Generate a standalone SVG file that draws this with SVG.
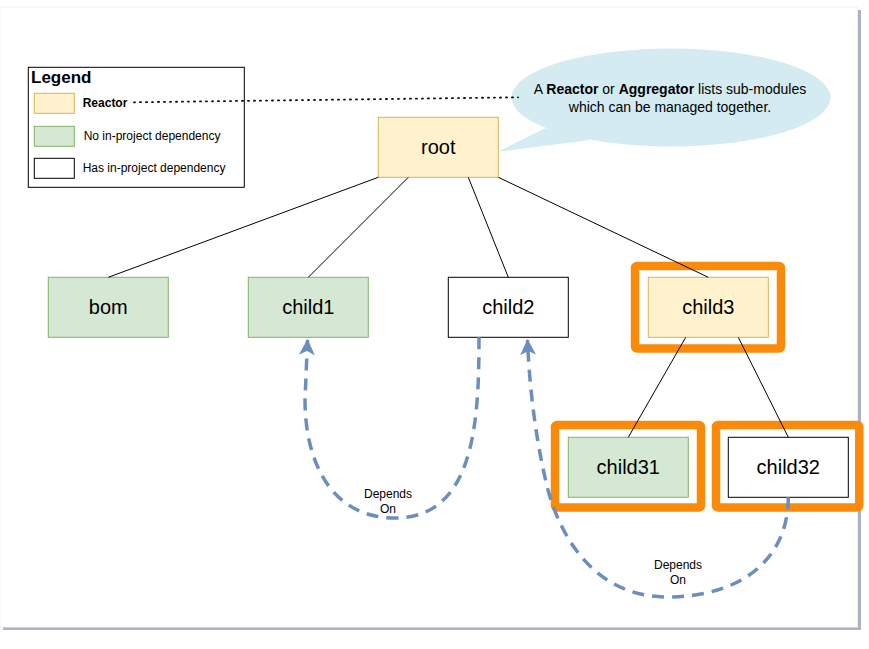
<svg xmlns="http://www.w3.org/2000/svg" width="869" height="649" viewBox="0 0 869 649">
<defs>
<style>
.t{font-family:"Liberation Sans",Arial,sans-serif;fill:#000}
.node{font-size:20px;text-anchor:middle}
.lg{font-size:12px}
.green{fill:#d5e8d4;stroke:#82b366;stroke-width:1}
.yellow{fill:#fff2cc;stroke:#d6b656;stroke-width:1}
.white{fill:#ffffff;stroke:#000000;stroke-width:1}
.hl{fill:none;stroke:#f98a0a;stroke-width:8.5}
.tree{fill:none;stroke:#000;stroke-width:1}
.dep{fill:none;stroke:#6c8ebf;stroke-width:3.5;stroke-dasharray:12 8}
</style>
<marker id="arr" viewBox="0 0 16 16" refX="15" refY="8" markerWidth="16" markerHeight="16" markerUnits="userSpaceOnUse" orient="auto">
<path d="M0,0 L16,8 L0,16 L4,8 Z" fill="#6c8ebf"/>
</marker>
</defs>
<rect x="0" y="0" width="869" height="649" fill="#ffffff"/>
<g id="page">
<rect x="3" y="10" width="858" height="620" fill="#aeb1c6"/>
<rect x="0" y="7" width="857.5" height="620" fill="#ffffff" stroke="#f2f2f2" stroke-width="1"/>
</g>
<g id="legend">
<rect x="28.3" y="67.3" width="216" height="120" fill="#fff" stroke="#000" stroke-width="1"/>
<text class="t" x="31" y="82.5" font-size="17" font-weight="bold">Legend</text>
<rect class="yellow" x="34.3" y="93.3" width="40" height="20"/>
<text class="t lg" x="82.7" y="107" font-weight="bold">Reactor</text>
<rect class="green" x="34.3" y="126.3" width="40" height="20"/>
<text class="t lg" x="83.7" y="140">No in-project dependency</text>
<rect class="white" x="34.3" y="158.3" width="40" height="20"/>
<text class="t lg" x="82.7" y="172">Has in-project dependency</text>
</g>
<g id="callout">
<path d="M545,128.3 L498.3,151.7 L590,140 Z" fill="#d3ebf1"/>
<ellipse cx="671" cy="97.5" rx="159.5" ry="49" fill="#d3ebf1"/>
<text class="t" x="670" y="94.3" font-size="14" text-anchor="middle">A <tspan font-weight="bold">Reactor</tspan> or <tspan font-weight="bold">Aggregator</tspan> lists sub-modules</text>
<text class="t" x="670" y="111.5" font-size="14" text-anchor="middle">which can be managed together.</text>
</g>
<g id="root"><rect class="yellow" x="378.3" y="117.3" width="120" height="60"/><text class="t node" x="438.3" y="154.3">root</text></g>
<g id="bom"><rect class="green" x="48.3" y="277.3" width="120" height="60"/><text class="t node" x="108.3" y="314.3">bom</text></g>
<g id="child1"><rect class="green" x="248.3" y="277.3" width="120" height="60"/><text class="t node" x="308.3" y="314.3">child1</text></g>
<g id="child2"><rect class="white" x="448.3" y="277.3" width="120" height="60"/><text class="t node" x="508.3" y="314.3">child2</text></g>
<g id="child3"><rect class="hl" x="635" y="266" width="146" height="82.5" rx="2"/><rect class="yellow" x="648.3" y="277.3" width="120" height="60"/><text class="t node" x="708.3" y="314.3">child3</text></g>
<g id="child31"><rect class="hl" x="555" y="425" width="146" height="82.5" rx="2"/><rect class="green" x="568.3" y="437.3" width="120" height="60"/><text class="t node" x="628.3" y="474.3">child31</text></g>
<g id="child32"><rect class="hl" x="716" y="425" width="143.3" height="82.5" rx="2"/><rect class="white" x="728.3" y="437.3" width="120" height="60"/><text class="t node" x="788.3" y="474.3">child32</text></g>
<g id="connectors">
<path d="M134,102.3 L518,97.3" fill="none" stroke="#000" stroke-width="1.8" stroke-dasharray="1 5" stroke-linecap="round"/>
<line class="tree" x1="378.3" y1="177.3" x2="108.3" y2="277.3"/>
<line class="tree" x1="408.3" y1="177.3" x2="308.3" y2="277.3"/>
<line class="tree" x1="468.3" y1="177.3" x2="508.3" y2="277.3"/>
<line class="tree" x1="498.3" y1="177.3" x2="708.3" y2="277.3"/>
<line class="tree" x1="685.7" y1="337.3" x2="628.3" y2="437.3"/>
<line class="tree" x1="738.3" y1="337.3" x2="788.3" y2="437.3"/>
<path class="dep" d="M479,337.3 C479,420 475,518 395,518 C330,518 305,460 305,400 L307.5,340" marker-end="url(#arr)"/>
<path class="dep" d="M788.3,497.3 C788.3,560 740,597 667,597 C600,597 563,545 548,490 C538,450 530,400 527.5,340" marker-end="url(#arr)"/>
<text class="t" x="388" y="498" font-size="12" text-anchor="middle">Depends</text>
<text class="t" x="388" y="513" font-size="12" text-anchor="middle">On</text>
<text class="t" x="678" y="568.5" font-size="12" text-anchor="middle">Depends</text>
<text class="t" x="678" y="583.5" font-size="12" text-anchor="middle">On</text>
</g>
</svg>
